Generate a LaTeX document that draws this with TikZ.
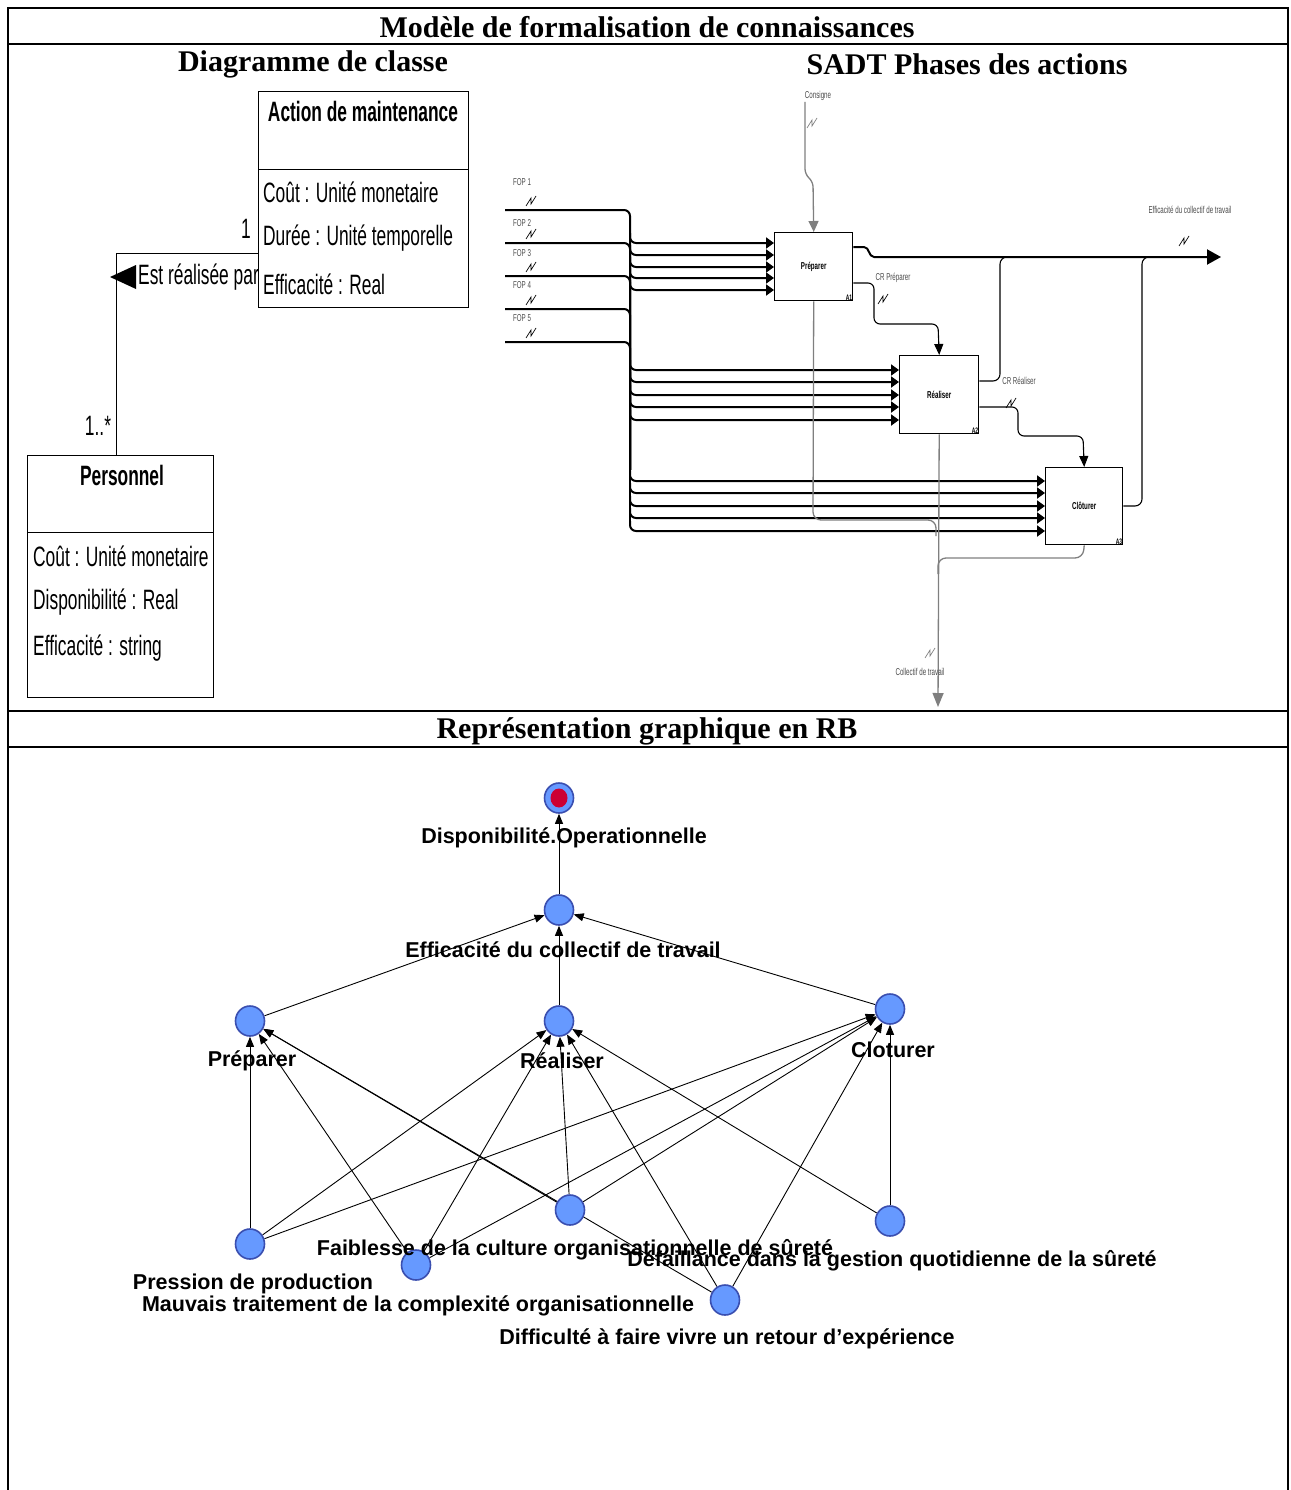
\documentclass[tikz,border=0pt]{standalone}
\usepackage{fontspec}
\setmainfont{Liberation Serif}
\newfontfamily\arialf{Liberation Sans}
\newfontfamily\narrowf[FakeStretch=0.62]{Liberation Sans}
\usetikzlibrary{arrows.meta,shapes.geometric}
\definecolor{bnblue}{HTML}{6699FF}
\definecolor{bnborder}{HTML}{3A4FB0}
\definecolor{bnred}{HTML}{CC0033}
\definecolor{mgray}{HTML}{7F7F7F}
\definecolor{lgray}{HTML}{4A4A4A}
\pgfdeclarelayer{edgelayer}
\pgfsetlayers{edgelayer,main}
\begin{document}
\begin{tikzpicture}[x=1pt,y=-1pt,
  hdr/.style={font=\fontsize{30}{32}\selectfont\bfseries, inner sep=0pt},
  frame/.style={line width=2pt},
  clsbox/.style={draw, line width=0.9pt, anchor=north west, inner sep=0pt},
  attr/.style={font=\narrowf\fontsize{28}{30}\selectfont, anchor=west, inner sep=0pt},
  clstitle/.style={font=\narrowf\fontsize{28}{30}\selectfont\bfseries, inner sep=0pt},
  sbox/.style={draw, line width=1.4pt, anchor=north west, inner sep=0pt,
     font=\narrowf\fontsize{10}{11}\selectfont\bfseries},
  boxnum/.style={font=\narrowf\fontsize{8}{9}\selectfont\bfseries, anchor=south east, inner sep=1pt},
  slab/.style={font=\narrowf\fontsize{10}{11}\selectfont, text=lgray, inner sep=0pt},
  sthick/.style={line width=2pt},
  sthin/.style={line width=1.1pt},
  sgray/.style={line width=1.3pt, draw=mgray},
  intip/.style={-{Triangle[length=8pt,width=11pt]}},
  bnode/.style={ellipse, minimum width=29pt, minimum height=30pt, fill=bnblue, draw=bnborder, line width=1.6pt, inner sep=0pt},
  bnlab/.style={font=\arialf\bfseries\fontsize{21.5}{23}\selectfont, inner sep=0pt},
  bnedge/.style={line width=0.9pt, -{Triangle[length=10pt,width=8pt]}},
  squig/.pic={\draw[line width=0.7pt] (-5,8) -- (0,0) -- (0,6) -- (5,-2);},
]
\useasboundingbox (0,0) rectangle (1290,1490);

% ---------- frame ----------
\draw[frame] (8,1490) -- (8,8) -- (1288,8) -- (1288,1490);
\draw[frame] (8,44) -- (1288,44);
\draw[frame] (8,711) -- (1288,711);
\draw[frame] (8,747) -- (1288,747);

\node[hdr] (t1) at (647,27) {Modèle de formalisation de connaissances};
\node[hdr] (t2) at (313,64) {Diagramme de classe};
\node[hdr] (t3) at (967,64) {SADT Phases des actions};
\node[hdr] (t4) at (647,731) {Représentation graphique en RB};

% ---------- class diagram ----------
\node[clsbox, minimum width=210pt, minimum height=216pt] (am) at (258,91) {};
\draw[line width=0.9pt] (258,169) -- (468,169);
\node[clstitle] (amt) at (363,111) {Action de maintenance};
\node[attr] (am1) at (263,192) {Coût : Unité monetaire};
\node[attr] (am2) at (263,238) {Durée : Unité temporelle};
\node[attr] (am3) at (263,284) {Efficacité : Real};

\node[clsbox, minimum width=186pt, minimum height=242pt] (pers) at (27,455) {};
\draw[line width=0.9pt] (27,532) -- (213,532);
\node[clstitle] (pt) at (122,475) {Personnel};
\node[attr] (p1) at (33,556) {Coût : Unité monetaire};
\node[attr] (p2) at (33,602) {Disponibilité : Real};
\node[attr] (p3) at (33,648) {Efficacité : string};

\coordinate (asA) at (258,253);
\coordinate (asP) at (116,455);
\draw[line width=0.8pt] (asA) -| (asP);
\node[attr, anchor=center] (m1) at (246,229) {1};
\node[attr, anchor=center] (m2) at (98,426) {1..*};
\fill (110,277) -- (136,265) -- (136,289) -- cycle;
\node[attr] (rel) at (138,277) {Est réalisée par};

% ---------- SADT ----------
\node[sbox, minimum width=78pt, minimum height=68pt] (sp) at (774,232) {Préparer};
\node[boxnum] at (sp.south east) {A1};
\node[sbox, minimum width=79pt, minimum height=78pt] (sr) at (899,355) {Réaliser};
\node[boxnum] at (sr.south east) {A2};
\node[sbox, minimum width=77pt, minimum height=77pt] (sc) at (1045,467) {Clôturer};
\node[boxnum] at (sc.south east) {A3};

% inputs FOP
\foreach \y/\n/\ly in {210/1/182,243/2/223,276/3/253,309/4/285,342/5/318}{
  \draw[sthick, rounded corners=6pt] (505,\y) -- (630,\y) -- (630,470);
  \node[slab] at (522,\ly) {FOP \n};
  \pic at (531,\y-12) {squig};
}
\draw[sthick] (630,460) -- (630,522);
\foreach \y in {243,255,267,278,290}
  \draw[sthick, rounded corners=6pt, intip] (630,\y-10) -- (630,\y) -- (sp.west |- 0,\y);
\foreach \y in {370,382,395,407,420}
  \draw[sthick, rounded corners=6pt, intip] (630,\y-10) -- (630,\y) -- (sr.west |- 0,\y);
\foreach \y in {481,493,506,518,531}
  \draw[sthick, rounded corners=6pt, intip] (630,\y-10) -- (630,\y) -- (sc.west |- 0,\y);

% control
\coordinate (cons) at (805,102);
\draw[sgray, rounded corners=5pt, -{Triangle[length=11pt,width=10pt]}, mgray] (cons) -- (805,174) -- (813,182) -- (sp.north);
\node[slab] at (818,96) {Consigne};
\pic[mgray] at (812,120) {squig};

% output
\coordinate (outE) at (1221,257);
\draw[sthick, -{Triangle[length=14pt,width=15pt]}] (sp.east |- 0,247) -- (864,247) to[out=0,in=180] (874,257) -- (outE);
\draw[sthin, rounded corners=7pt] (sr.east |- 0,381) -- (1000,381) -- (1000,257) -- (1014,257);
\draw[sthin, rounded corners=7pt] (sc.east |- 0,506) -- (1142,506) -- (1142,257) -- (1156,257);
\node[slab] at (1190,210) {Efficacité du collectif de travail};
\pic at (1184,238) {squig};

% CR arrows
\draw[sthin, rounded corners=6pt, -{Triangle[length=11pt,width=9pt]}] (sp.east |- 0,283) -- (874,283) -- (874,324) -- (938,324) -- (sr.north);
\node[slab] at (893,278) {CR Préparer};
\pic at (883,296) {squig};
\draw[sthin, rounded corners=6pt, -{Triangle[length=11pt,width=9pt]}] (sr.east |- 0,407) -- (1018,407) -- (1018,436) -- (1083,436) -- (sc.north);
\node[slab] at (1019,381) {CR Réaliser};
\pic at (1011,400) {squig};

% mechanism (gray)
\coordinate (coll) at (938,707);
\draw[sgray, -{Triangle[length=14pt,width=11pt]}, mgray] (sr.south) -- (coll);
\draw[sgray, rounded corners=8pt] (sp.south) -- (813,520) -- (936,520) -- (936,536);
\draw[sgray, rounded corners=8pt] (sc.south) -- (1083,558) -- (938,558) -- (938,574);
\node[slab] at (920,672) {Collectif de travail};
\pic[mgray] at (930,650) {squig};

% ---------- Bayesian network ----------
\node[bnode] (DO) at (559,798) {};
\fill[bnred] (559,798) ellipse (8.5pt and 9.5pt);
\node[bnode] (EC) at (559,910) {};
\node[bnode] (PR) at (250,1021) {};
\node[bnode] (RE) at (559,1021) {};
\node[bnode] (CL) at (890,1009) {};
\node[bnode] (PP) at (250,1244) {};
\node[bnode] (FC) at (570,1210) {};
\node[bnode] (DG) at (890,1221) {};
\node[bnode] (MT) at (416,1265) {};
\node[bnode] (DR) at (725,1300) {};

\begin{pgfonlayer}{edgelayer}
\foreach \a/\b in {EC/DO, PR/EC, RE/EC, CL/EC,
  PP/PR, PP/RE, PP/CL,
  MT/PR, MT/RE, MT/CL,
  FC/PR, FC/RE, FC/CL,
  DR/PR, DR/RE, DR/CL,
  DG/RE, DG/CL}
  \draw[bnedge] (\a) -- (\b);
\end{pgfonlayer}

\node[bnlab] (lDO) at (564,838) {Disponibilité.Operationnelle};
\node[bnlab] (lEC) at (563,950) {Efficacité du collectif de travail};
\node[bnlab] (lPR) at (252,1061) {Préparer};
\node[bnlab] (lRE) at (562,1061) {Réaliser};
\node[bnlab] (lCL) at (893,1050) {Cloturer};
\node[bnlab] (lFC) at (575,1250) {Faiblesse de la culture organisationnelle de sûreté};
\node[bnlab] (lDG) at (892,1261) {Défaillance dans la gestion quotidienne de la sûreté};
\node[bnlab] (lPP) at (253,1284) {Pression de production};
\node[bnlab] (lMT) at (418,1306) {Mauvais traitement de la complexité organisationnelle};
\node[bnlab] (lDR) at (727,1339) {Difficulté à faire vivre un retour d’expérience};
\end{tikzpicture}
\end{document}
